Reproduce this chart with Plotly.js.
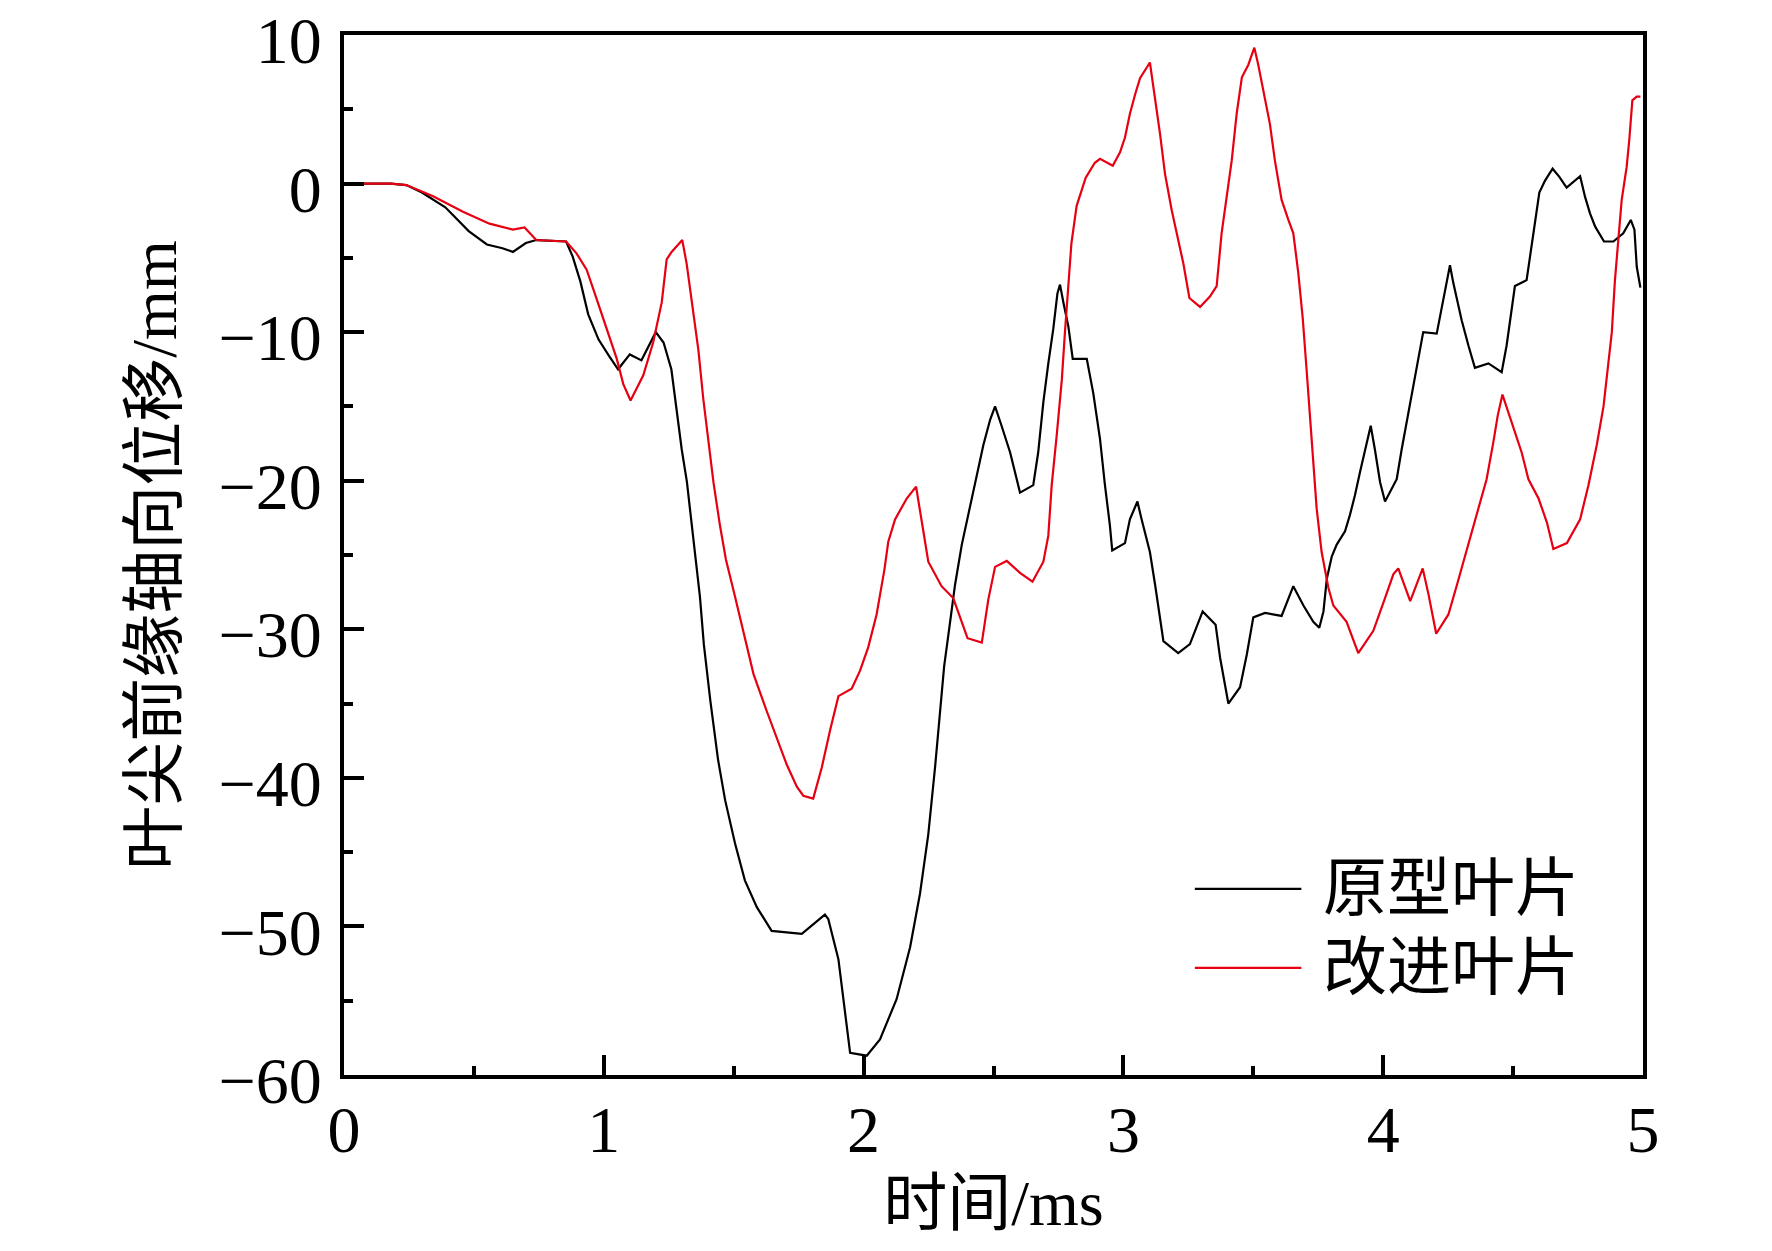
<!DOCTYPE html>
<html>
<head>
<meta charset="utf-8">
<script src="https://cdn.plot.ly/plotly-3.0.1.min.js"></script>
<style>
  html, body { margin: 0; padding: 0; background: #fff; }
  #plot { width: 1772px; height: 1251px; }
</style>
</head>
<body>
<div id="plot"></div>
<script>
// time (ms) and tip leading-edge axial displacement (mm)
const time_orig = [0, 0.18, 0.24, 0.30, 0.39, 0.48, 0.55, 0.61, 0.65, 0.70, 0.74, 0.855, 0.88, 0.91, 0.94, 0.98,
  1.02, 1.055, 1.10, 1.145, 1.20, 1.23, 1.26, 1.28, 1.30, 1.32, 1.34, 1.355, 1.37, 1.385, 1.41, 1.44, 1.467,
  1.505, 1.543, 1.589, 1.646, 1.762, 1.851, 1.864, 1.903, 1.928, 1.948, 2.012, 2.063, 2.127, 2.179, 2.217,
  2.249, 2.275, 2.294, 2.31, 2.333, 2.352, 2.378, 2.41, 2.435, 2.461, 2.487, 2.506, 2.531, 2.564, 2.602,
  2.653, 2.672, 2.692, 2.711, 2.73, 2.746, 2.756, 2.769, 2.788, 2.805, 2.859, 2.884, 2.91, 2.929, 2.948,
  2.957, 3.006, 3.025, 3.054, 3.07, 3.102, 3.122, 3.141, 3.154, 3.211, 3.256, 3.305, 3.355, 3.372, 3.404,
  3.449, 3.475, 3.5, 3.545, 3.609, 3.635, 3.654, 3.693, 3.731, 3.754, 3.77, 3.783, 3.802, 3.821, 3.853,
  3.872, 3.891, 3.911, 3.93, 3.952, 3.968, 3.988, 4.007, 4.052, 4.071, 4.097, 4.122, 4.154, 4.206, 4.231,
  4.257, 4.27, 4.302, 4.328, 4.353, 4.405, 4.456, 4.475, 4.495, 4.507, 4.552, 4.572, 4.584, 4.601, 4.623,
  4.652, 4.678, 4.706, 4.758, 4.777, 4.796, 4.816, 4.85, 4.886, 4.924, 4.953, 4.967, 4.976, 4.99];
const disp_orig = [0, 0, -0.1, -0.6, -1.6, -3.2, -4.1, -4.35, -4.6, -4.0, -3.8, -3.9, -4.9, -6.6, -8.8, -10.5,
  -11.6, -12.5, -11.5, -11.9, -10.0, -10.7, -12.5, -15.2, -17.9, -20.1, -23.0, -25.5, -27.8, -31.0, -34.8,
  -38.8, -41.5, -44.4, -46.9, -48.7, -50.3, -50.5, -49.2, -49.5, -52.2, -55.6, -58.5, -58.7, -57.6, -54.9,
  -51.4, -47.8, -43.8, -39.3, -35.7, -32.5, -29.5, -27.0, -24.3, -21.7, -19.9, -17.6, -15.9, -15.0, -16.3,
  -18.1, -20.8, -20.3, -18.1, -14.7, -12.1, -9.8, -7.4, -6.8, -8.0, -9.6, -11.8, -11.8, -14.1, -17.2, -20.3,
  -23.0, -24.7, -24.2, -22.6, -21.4, -22.6, -24.8, -27.0, -29.2, -30.8, -31.6, -31.0, -28.8, -29.7, -31.9,
  -35.0, -33.9, -31.7, -29.2, -28.9, -29.1, -27.9, -27.1, -28.4, -29.5, -29.9, -28.8, -26.6, -25.1, -24.3,
  -23.4, -22.3, -21.0, -19.4, -17.9, -16.3, -17.9, -20.1, -21.4, -19.9, -17.9, -15.4, -12.9, -10.0, -10.1,
  -7.8, -5.5, -6.7, -9.2, -10.9, -12.4, -12.1, -12.7, -10.9, -8.3, -6.9, -6.5, -4.2, -2.8, -0.6, 0.2, 1.0,
  0.45, -0.27, 0.5, -0.9, -2.0, -2.9, -3.9, -3.9, -3.35, -2.45, -3.1, -5.6, -7.0];

const time_impr = [0, 0.18, 0.24, 0.30, 0.343, 0.458, 0.56, 0.65, 0.695, 0.74, 0.855, 0.895, 0.934, 0.973,
  1.011, 1.05, 1.075, 1.103, 1.152, 1.19, 1.223, 1.242, 1.261, 1.302, 1.319, 1.338, 1.364, 1.383, 1.402,
  1.422, 1.447, 1.47, 1.505, 1.537, 1.576, 1.627, 1.665, 1.704, 1.743, 1.768, 1.806, 1.839, 1.871, 1.903,
  1.954, 1.986, 2.018, 2.05, 2.063, 2.08, 2.095, 2.121, 2.166, 2.202, 2.23, 2.249, 2.3, 2.345, 2.4, 2.455,
  2.48, 2.506, 2.551, 2.602, 2.65, 2.692, 2.711, 2.724, 2.743, 2.763, 2.775, 2.788, 2.80, 2.82, 2.855, 2.89,
  2.91, 2.959, 2.987, 3.006, 3.025, 3.045, 3.064, 3.102, 3.122, 3.141, 3.16, 3.186, 3.211, 3.231, 3.254,
  3.295, 3.333, 3.359, 3.378, 3.398, 3.417, 3.436, 3.456, 3.481, 3.504, 3.519, 3.539, 3.564, 3.583, 3.609,
  3.635, 3.654, 3.673, 3.69, 3.705, 3.725, 3.744, 3.763, 3.789, 3.808, 3.859, 3.904, 3.962, 4.007, 4.039,
  4.058, 4.104, 4.152, 4.175, 4.204, 4.251, 4.284, 4.322, 4.361, 4.398, 4.424, 4.441, 4.459, 4.495, 4.533,
  4.559, 4.598, 4.63, 4.655, 4.707, 4.758, 4.79, 4.822, 4.848, 4.867, 4.88, 4.892, 4.905, 4.918, 4.937,
  4.947, 4.959, 4.976, 4.99];
const disp_impr = [0, 0, -0.1, -0.55, -0.85, -1.9, -2.7, -3.1, -2.95, -3.8, -3.9, -4.7, -5.8, -7.8, -9.8,
  -11.8, -13.5, -14.6, -12.9, -10.7, -8.0, -5.1, -4.6, -3.8, -5.4, -7.8, -11.2, -14.5, -17.4, -20.1, -23.0,
  -25.3, -27.8, -30.2, -33.0, -35.5, -37.3, -39.1, -40.6, -41.2, -41.4, -39.3, -36.8, -34.5, -34.0, -32.8,
  -31.2, -29.0, -27.7, -26.0, -24.1, -22.6, -21.2, -20.4, -23.4, -25.45, -27.1, -27.9, -30.6, -30.9, -28.0,
  -25.8, -25.4, -26.2, -26.8, -25.45, -23.7, -20.3, -17.0, -13.2, -10.0, -6.5, -4.0, -1.5, 0.4, 1.4, 1.67,
  1.2, 2.1, 3.1, 4.7, 6.0, 7.1, 8.15, 5.8, 3.35, 0.67, -1.8, -3.8, -5.4, -7.7, -8.3, -7.6, -6.9, -3.35, -0.9,
  1.56, 4.7, 7.15, 8.0, 9.15, 8.0, 6.25, 4.0, 1.56, -1.1, -2.45, -3.35, -6.0, -9.0, -12.5, -17.4, -21.9,
  -24.8, -27.2, -28.4, -29.5, -31.6, -30.1, -27.9, -26.3, -25.9, -28.1, -25.9, -27.7, -30.3, -29.0, -27.0,
  -24.6, -22.3, -19.9, -17.4, -15.6, -14.2, -16.1, -18.1, -19.9, -21.2, -22.8, -24.6, -24.2, -22.6, -20.3,
  -17.6, -15.0, -12.1, -10.0, -6.5, -3.8, -1.1, 1.1, 2.9, 5.6, 5.85, 5.85];

const series_names = ["原型叶片", "改进叶片"];
const series_colors = ["#000000", "#e60012"];

const font_family = '"Liberation Serif", "Times New Roman", "Noto Sans CJK SC", serif';

const traces = [
  {x: time_orig, y: disp_orig, name: series_names[0], mode: "lines", showlegend: false,
   line: {color: series_colors[0], width: 2.2}},
  {x: time_impr, y: disp_impr, name: series_names[1], mode: "lines", showlegend: false,
   line: {color: series_colors[1], width: 2.2}}
];

// legend drawn by hand so the line samples get the long length of the original
const legend_y = [0.179, 0.103];
const legend_shapes = series_names.map((n, i) => ({
  type: "line", xref: "paper", yref: "paper",
  x0: 0.655, x1: 0.737, y0: legend_y[i], y1: legend_y[i],
  line: {color: series_colors[i], width: 2.2}
}));
const legend_labels = series_names.map((n, i) => ({
  xref: "paper", yref: "paper", x: 0.752, y: legend_y[i],
  xanchor: "left", yanchor: "middle", text: n, showarrow: false,
  font: {family: font_family, size: 64, color: "#000"}
}));

const axis_common = {
  showline: true, linecolor: "#000", linewidth: 4, mirror: true,
  ticks: "inside", ticklen: 20, tickwidth: 4, tickcolor: "#000",
  showgrid: false, zeroline: false, ticklabeloverflow: "allow",
  tickfont: {family: font_family, size: 66, color: "#000"}
};

const layout = {
  width: 1772, height: 1251,
  margin: {l: 344, r: 129, t: 35, b: 176},
  paper_bgcolor: "#fff", plot_bgcolor: "#fff",
  font: {family: font_family, color: "#000"},
  xaxis: Object.assign({}, axis_common, {
    range: [0, 5], dtick: 1, tick0: 0,
    minor: {dtick: 0.5, ticks: "inside", ticklen: 9, tickwidth: 4, tickcolor: "#000", showgrid: false},
    ticklabelstandoff: -6,
    title: {text: "时间/ms", font: {family: font_family, size: 64, color: "#000"}, standoff: 16}
  }),
  yaxis: Object.assign({}, axis_common, {
    range: [-60, 10], dtick: 10, tick0: 0,
    minor: {dtick: 5, ticks: "inside", ticklen: 9, tickwidth: 4, tickcolor: "#000", showgrid: false},
    ticklabelstandoff: 5, ticklabelshift: 5,
    title: {text: "叶尖前缘轴向位移/mm", font: {family: font_family, size: 64, color: "#000"}, standoff: 22}
  }),
  shapes: legend_shapes,
  annotations: legend_labels
};

Plotly.newPlot("plot", traces, layout, {staticPlot: true});
</script>
</body>
</html>
